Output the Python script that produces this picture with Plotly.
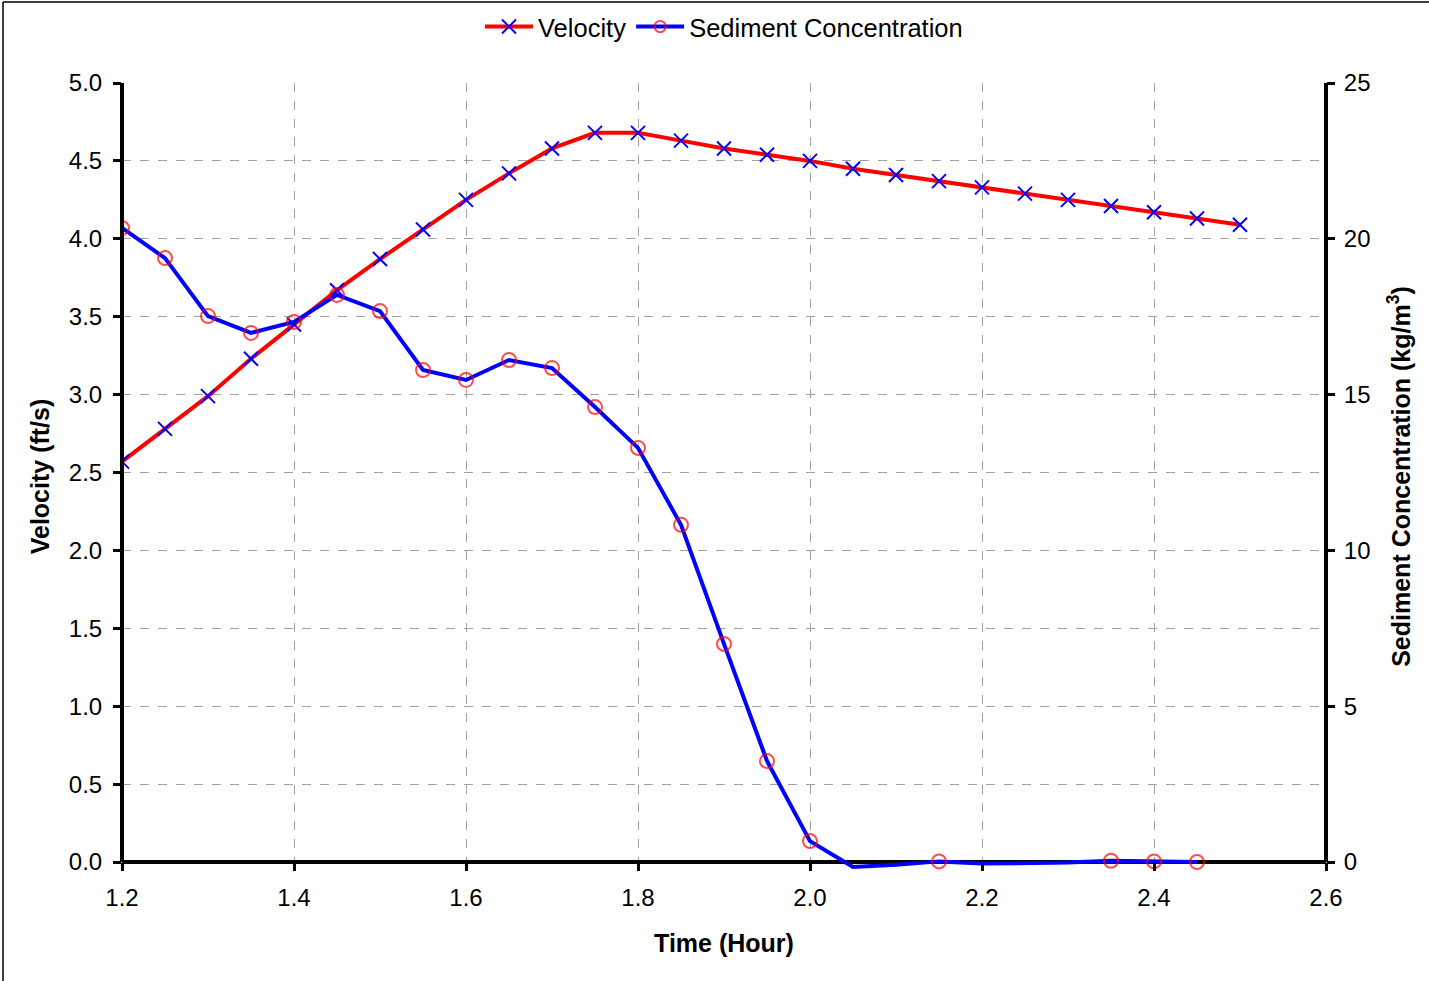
import plotly.graph_objects as go

time_vel = [1.2, 1.25, 1.3, 1.35, 1.4, 1.45, 1.5, 1.55, 1.6, 1.65, 1.7, 1.75, 1.8, 1.85,
            1.9, 1.95, 2.0, 2.05, 2.1, 2.15, 2.2, 2.25, 2.3, 2.35, 2.4, 2.45, 2.5]
velocity = [2.57, 2.78, 2.99, 3.23, 3.45, 3.67, 3.87, 4.06, 4.25, 4.42, 4.58, 4.68, 4.68, 4.63,
            4.58, 4.54, 4.50, 4.45, 4.41, 4.37, 4.33, 4.29, 4.25, 4.21, 4.17, 4.13, 4.09]

time_sed = [1.2, 1.25, 1.3, 1.35, 1.4, 1.45, 1.5, 1.55, 1.6, 1.65, 1.7, 1.75, 1.8, 1.85,
            1.9, 1.95, 2.0, 2.05, 2.1, 2.15, 2.2, 2.25, 2.3, 2.35, 2.4, 2.45]
sediment = [20.35, 19.38, 17.52, 16.98, 17.33, 18.2, 17.68, 15.79, 15.47, 16.11, 15.85, 14.6,
            13.29, 10.82, 7.0, 3.24, 0.67, -0.16, -0.09, 0.02, -0.05, -0.05, -0.02, 0.04, 0.02, 0.0]

vel_range = [0, 5]
sed_range = [0, 25]

# markers outside the axis range are hidden (as in the original)
sed_marker_sizes = [14 if v >= 0 else 0 for v in sediment]

FONT = "Liberation Sans, Arial, sans-serif"

# geometry (pixels)
W, H = 1429, 981
ML, MR, MT = 122, 103, 83
ZERO_PX = 862           # pixel row of the zero line
EXT = 8                 # plot area extends this far below zero (lets the dip show)
MB = H - ZERO_PX - EXT
PH = H - MT - MB
vmin = -EXT * (vel_range[1] - vel_range[0]) / (ZERO_PX - MT)
smin = vmin * (sed_range[1] / vel_range[1])
zero_pos = EXT / PH

fig = go.Figure()
fig.add_trace(go.Scatter(
    x=time_vel, y=velocity, name="Velocity", mode="lines+markers",
    line=dict(color="#ff0000", width=4),
    marker=dict(symbol="x-thin-open", size=14, color="#0000ff",
                line=dict(color="#0000ff", width=2)),
    yaxis="y",
))
fig.add_trace(go.Scatter(
    x=time_sed, y=sediment, name="Sediment Concentration", mode="lines+markers",
    line=dict(color="#0000ff", width=4),
    marker=dict(symbol="circle-open", size=sed_marker_sizes, color="#ff0000",
                line=dict(color="#ff0000", width=2)),
    yaxis="y2",
))

grid = dict(showgrid=True, gridcolor="#a0a0a0", griddash="dash", gridwidth=1)
tickf = dict(family=FONT, size=24, color="black")
titlef = dict(family=FONT, size=25, color="black")

fig.update_layout(
    width=W, height=H,
    margin=dict(l=ML, r=MR, t=MT, b=MB, autoexpand=False),
    paper_bgcolor="white", plot_bgcolor="white",
    font=dict(family=FONT, size=24, color="black"),
    showlegend=True,
    legend=dict(orientation="h", x=0.5, xanchor="center", y=1 + (MT - 27) / PH,
                yanchor="middle", font=dict(family=FONT, size=25.5, color="black"),
                bgcolor="rgba(0,0,0,0)", itemwidth=48),
    xaxis=dict(range=[1.2, 2.6], dtick=0.2, tick0=1.2, tickformat=".1f",
               anchor="free", position=zero_pos,
               showline=False, zeroline=False, ticks="outside", ticklen=8, tickwidth=3,
               tickcolor="black", tickfont=tickf, ticklabelstandoff=6,
               title=dict(text="<b>Time (Hour)</b>", font=titlef, standoff=24),
               **grid),
    yaxis=dict(range=[vmin, vel_range[1]], tickvals=[i * 0.5 for i in range(11)],
               tickformat=".1f",
               showline=False, zeroline=True, zerolinecolor="black", zerolinewidth=4,
               ticks="outside", ticklen=8, tickwidth=3, tickcolor="black", tickfont=tickf,
               ticklabelstandoff=6,
               title=dict(text="<b>Velocity (ft/s)</b>", font=titlef, standoff=12),
               **grid),
    yaxis2=dict(range=[smin, sed_range[1]], tickvals=[0, 5, 10, 15, 20, 25],
                overlaying="y", side="right",
                showline=False, zeroline=False,
                showgrid=False, ticks="outside", ticklen=8, tickwidth=3, tickcolor="black",
                tickfont=tickf, ticklabelstandoff=4,
                title=dict(text="<b>Sediment Concentration (kg/m<sup>3</sup>)</b>",
                           font=titlef, standoff=22)),
    yaxis3=dict(range=[smin, sed_range[1]], tickvals=[0, 5, 10, 15, 20, 25],
                overlaying="y", side="right", showticklabels=False,
                showline=False, zeroline=False, showgrid=False,
                ticks="inside", ticklen=6, tickwidth=3, tickcolor="black"),
)

# vertical axis lines (from zero upward)
axis_line = dict(color="black", width=4)
fig.add_shape(type="line", xref="paper", yref="y", x0=0, x1=0, y0=0, y1=vel_range[1],
              line=axis_line, layer="above")
fig.add_shape(type="line", xref="paper", yref="y", x0=1, x1=1, y0=0, y1=vel_range[1],
              line=axis_line, layer="above")

# outer chart frame (left and top edges visible)
pw = W - ML - MR
fig.add_shape(type="line", xref="paper", yref="paper",
              x0=(3 - ML) / pw, x1=(3 - ML) / pw, y0=-MB / PH, y1=1 + (MT - 2) / PH,
              line=dict(color="black", width=1.5))
fig.add_shape(type="line", xref="paper", yref="paper",
              x0=(3 - ML) / pw, x1=1 + MR / pw, y0=1 + (MT - 2) / PH, y1=1 + (MT - 2) / PH,
              line=dict(color="black", width=1.5))

fig.write_html("out.html")
